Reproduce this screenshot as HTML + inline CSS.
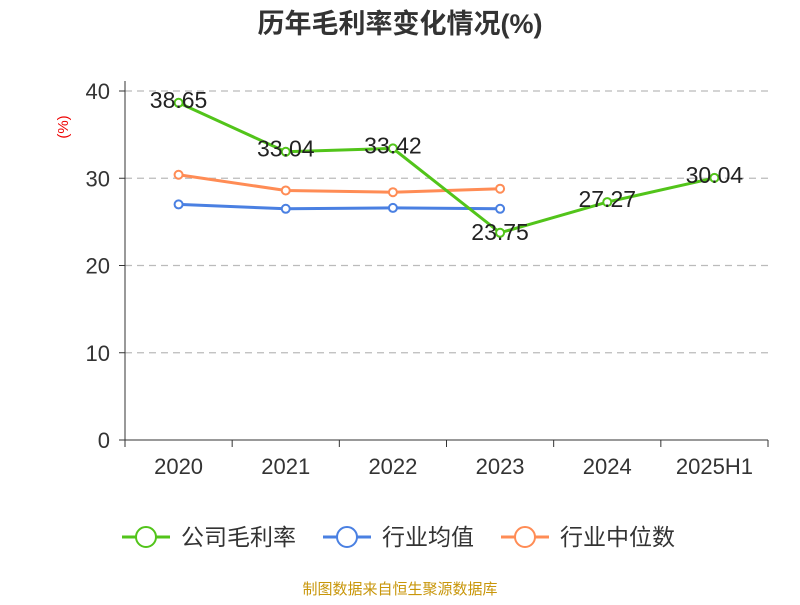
<!DOCTYPE html>
<html><head><meta charset="utf-8"><style>
body{margin:0;background:#fff;width:800px;height:600px;overflow:hidden;font-family:"Liberation Sans","Noto Sans CJK SC",sans-serif}
</style></head><body>
<svg id="chart" width="800" height="600" xmlns="http://www.w3.org/2000/svg" font-family="Liberation Sans, Noto Sans CJK SC, sans-serif">
<text x="400" y="33" text-anchor="middle" font-size="27" font-weight="bold" fill="#333">历年毛利率变化情况(%)</text>
<text x="68" y="127" fill="#e00" font-size="15" text-anchor="middle" transform="rotate(-90 68 127)">(%)</text>
<g id="grid"></g><g id="axes"></g><g id="series"></g>
<g>
<g><line x1="122" y1="537" x2="170" y2="537" stroke="#52c41a" stroke-width="3"/><circle cx="146" cy="537" r="10" fill="#fff" stroke="#52c41a" stroke-width="2"/><text x="181" y="545" font-size="23" fill="#333">公司毛利率</text></g>
<g><line x1="323" y1="537" x2="371" y2="537" stroke="#4a80e2" stroke-width="3"/><circle cx="347" cy="537" r="10" fill="#fff" stroke="#4a80e2" stroke-width="2"/><text x="382" y="545" font-size="23" fill="#333">行业均值</text></g>
<g><line x1="501" y1="537" x2="549" y2="537" stroke="#ff8c55" stroke-width="3"/><circle cx="525" cy="537" r="10" fill="#fff" stroke="#ff8c55" stroke-width="2"/><text x="560" y="545" font-size="23" fill="#333">行业中位数</text></g>
</g>
<text x="400" y="594" text-anchor="middle" font-size="15" fill="#c8960a">制图数据来自恒生聚源数据库</text>
</svg>
<script>
const categories=["2020","2021","2022","2023","2024","2025H1"];
const companyValues=[38.65,33.04,33.42,23.75,27.27,30.04];
const avgValues=[27.0,26.5,26.6,26.5];
const medianValues=[30.4,28.6,28.4,28.8];
const yTicks=[0,10,20,30,40];
const NS="http://www.w3.org/2000/svg";
const x0=125,x1=768,y0=440,y1=91,yMax=40;
const bw=(x1-x0)/categories.length;
const xs=i=>x0+bw*(i+0.5);
const ys=v=>y0-(v/yMax)*(y0-y1);
function mk(tag,attrs,parent,text){const e=document.createElementNS(NS,tag);for(const k in attrs)e.setAttribute(k,attrs[k]);if(text!==undefined)e.textContent=text;document.getElementById(parent).appendChild(e);return e;}
yTicks.forEach(t=>{
 if(t>0){const g=mk("line",{x1:x0,x2:x1,y1:ys(t),y2:ys(t),stroke:"#bbb","stroke-width":"1.3","stroke-dasharray":"7,5"},"grid");
 
 }
 const tk=mk("line",{x1:x0-6,x2:x0,y1:ys(t),y2:ys(t),stroke:"#333"},"axes");
 
 
 const l=mk("text",{x:x0-15,y:ys(t)+8,"text-anchor":"end","font-size":"22",fill:"#333"},"axes",t);
 
 
});
const ya=mk("line",{x1:x0,x2:x0,y1:y1-10,y2:y0,stroke:"#333"},"axes");


const xa=mk("line",{x1:x0,x2:x1,y1:y0,y2:y0,stroke:"#333"},"axes");


for(let i=0;i<=categories.length;i++){const t=mk("line",{x1:x0+bw*i,x2:x0+bw*i,y1:y0,y2:y0+7,stroke:"#333"},"axes");
 
 }
categories.forEach((c,i)=>{const l=mk("text",{x:xs(i),y:y0+34,"text-anchor":"middle","font-size":"22",fill:"#333"},"axes",c);
 
 });
function series(vals,color,name,labels){
 const p=mk("polyline",{points:vals.map((v,i)=>xs(i)+","+ys(v)).join(" "),fill:"none",stroke:color,"stroke-width":"3"},"series");
 
 
 vals.forEach((v,i)=>{
  const c=mk("circle",{cx:xs(i),cy:ys(v),r:4,fill:"#fff",stroke:color,"stroke-width":"2"},"series");
  
  
  if(labels){const dy=(i===3)?0:-2;
   const t=mk("text",{x:xs(i),y:ys(v)+dy+7,"text-anchor":"middle","font-size":"23",fill:"#222"},"series",v.toFixed(2));
   
   }
 });
}
series(avgValues,"#4a80e2","industry-avg",false);
series(medianValues,"#ff8c55","industry-median",false);
series(companyValues,"#52c41a","company",true);
</script>
</body></html>
